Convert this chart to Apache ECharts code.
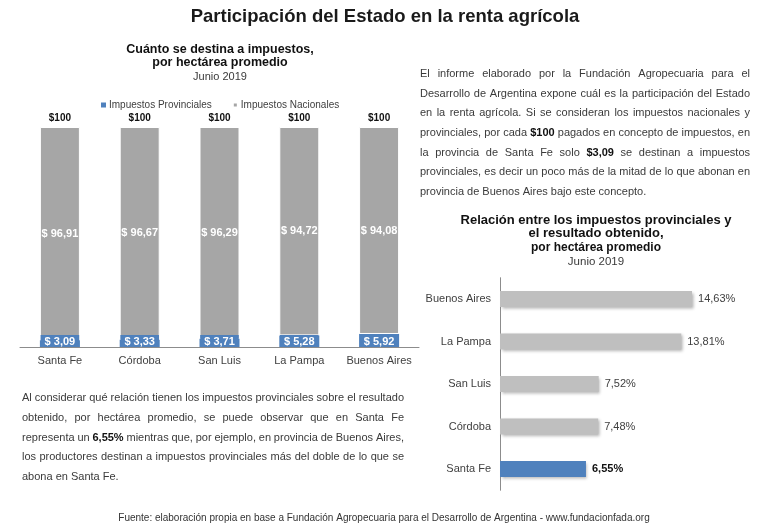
<!DOCTYPE html>
<html><head><meta charset="utf-8">
<script src="https://cdn.jsdelivr.net/npm/echarts@6/dist/echarts.min.js"></script>
<style>html,body{margin:0;padding:0;background:#fff}#c{width:768px;height:528px}</style>
</head><body><div id="c"></div>
<script>
// ---- data ----
const provinces = ['Santa Fe', 'Córdoba', 'San Luis', 'La Pampa', 'Buenos Aires'];
const provinciales = [3.09, 3.33, 3.71, 5.28, 5.92];
const nacionales = [96.91, 96.67, 96.29, 94.72, 94.08];
const totals = [100, 100, 100, 100, 100];
const ratioCats = ['Santa Fe', 'Córdoba', 'San Luis', 'La Pampa', 'Buenos Aires'];
const ratioValues = [6.55, 7.48, 7.52, 13.81, 14.63];
const highlight = 'Santa Fe';

const mainTitle = 'Participación del Estado en la renta agrícola';
const leftTitle = ['Cuánto se destina a impuestos,', 'por hectárea promedio'];
const leftSub = 'Junio 2019';
const rightTitle = ['Relación entre los impuestos provinciales y', 'el resultado obtenido,'];
const rightTitle2 = 'por hectárea promedio';
const rightSub = 'Junio 2019';
const footer = 'Fuente: elaboración propia en base a Fundación Agropecuaria para el Desarrollo de Argentina - www.fundacionfada.org';
const rightPara = [
  'El informe elaborado por la Fundación Agropecuaria para el',
  'Desarrollo de Argentina expone cuál es la participación del Estado',
  'en la renta agrícola. Si se consideran los impuestos nacionales y',
  'provinciales, por cada **$100** pagados en concepto de impuestos, en',
  'la provincia de Santa Fe solo **$3,09** se destinan a impuestos',
  'provinciales, es decir un poco más de la mitad de lo que abonan en',
  'provincia de Buenos Aires bajo este concepto.'
];
const leftPara = [
  'Al considerar qué relación tienen los impuestos provinciales sobre el resultado',
  'obtenido, por hectárea promedio, se puede observar que en Santa Fe',
  'representa un **6,55%** mientras que, por ejemplo, en provincia de Buenos Aires,',
  'los productores destinan a impuestos provinciales más del doble de lo que se',
  'abona en Santa Fe.'
];

// ---- style ----
const FONT = '"Liberation Sans", Arial, sans-serif';
const BLUE = '#4F81BD';
const GRAY_L = '#A6A6A6';
const GRAY_R = '#BFBFBF';
const TXT = '#3a3a3a';

const fmt = v => v.toFixed(2).replace('.', ',');

const ctx = document.createElement('canvas').getContext('2d');
function justify(lines, x0, x1, y0, dy, size) {
  const els = [];
  lines.forEach((line, i) => {
    const words = line.split(' ').map(w => ({ bold: w.startsWith('**'), t: w.replace(/\*\*/g, '') }));
    const widths = words.map(w => { ctx.font = (w.bold ? 'bold ' : '') + size + 'px ' + FONT; return ctx.measureText(w.t).width; });
    ctx.font = size + 'px ' + FONT;
    const sp = ctx.measureText(' ').width;
    const total = widths.reduce((a, b) => a + b, 0);
    const last = i === lines.length - 1;
    const gap = last ? sp : Math.max(sp * 0.6, (x1 - x0 - total) / (words.length - 1));
    let x = x0;
    words.forEach((w, j) => {
      els.push({ type: 'text', x: x, y: y0 + i * dy, silent: true,
        style: { text: w.t, fontSize: size, fontFamily: FONT, fontWeight: w.bold ? 'bold' : 'normal',
          fill: w.bold ? '#111' : TXT, verticalAlign: 'middle', align: 'left' } });
      x += widths[j] + gap;
    });
  });
  return els;
}
function ctext(t, x, y, size, bold, color) {
  return { type: 'text', x: x, y: y, silent: true,
    style: { text: t, fontSize: size, fontFamily: FONT, fontWeight: bold ? 'bold' : 'normal',
      fill: color || TXT, align: 'center', verticalAlign: 'middle' } };
}

const graphics = [
  ctext(mainTitle, 385, 17, 18.5, true, '#1a1a1a'),
  ctext(leftTitle[0], 220, 50, 12.5, true, '#111'),
  ctext(leftTitle[1], 220, 63, 12.5, true, '#111'),
  ctext(leftSub, 220, 77, 11, false, TXT),
  ctext(rightTitle[0], 596, 220, 13, true, '#111'),
  ctext(rightTitle[1], 596, 233, 13, true, '#111'),
  ctext(rightTitle2, 596, 248, 12, true, '#111'),
  ctext(rightSub, 596, 262, 11.5, false, TXT),
  ctext(footer, 384, 518, 10, false, '#333'),
  ...justify(rightPara, 420, 750, 74, 19.67, 11),
  ...justify(leftPara, 22, 404, 398, 19.75, 11)
];

const chart = echarts.init(document.getElementById('c'), null, { renderer: 'canvas' });
chart.setOption({
  backgroundColor: '#fff',
  animation: false,
  textStyle: { fontFamily: FONT },
  legend: {
    data: ['Impuestos Provinciales', 'Impuestos Nacionales'],
    left: 96, top: 95, icon: 'rect', itemWidth: 5, itemHeight: 5, itemGap: 20,
    textStyle: { fontSize: 10, color: '#404040', fontFamily: FONT, padding: [0, 0, 0, -2] }
  },
  grid: [
    { left: 20, top: 127, width: 399, height: 220 },
    { left: 500, top: 277.75, width: 262.5, height: 212.5 }
  ],
  xAxis: [
    { type: 'category', gridIndex: 0, data: provinces,
      axisLine: { lineStyle: { color: '#8c8c8c' } }, axisTick: { show: false },
      axisLabel: { interval: 0, fontSize: 11, color: '#404040', margin: 8, fontFamily: FONT } },
    { type: 'value', gridIndex: 1, min: 0, max: 20, show: false }
  ],
  yAxis: [
    { type: 'value', gridIndex: 0, min: 0, max: 100, show: false },
    { type: 'category', gridIndex: 1, data: ratioCats,
      axisLine: { lineStyle: { color: '#8c8c8c' } }, axisTick: { show: false },
      axisLabel: { interval: 0, fontSize: 11, color: '#404040', margin: 9, fontFamily: FONT } }
  ],
  series: [
    { name: 'Impuestos Provinciales', type: 'bar', stack: 'a', xAxisIndex: 0, yAxisIndex: 0,
      data: provinciales, barWidth: 40, itemStyle: { color: BLUE },
      label: { show: true, position: 'insideBottom', distance: 0, formatter: p => '$ ' + fmt(p.value),
        color: '#fff', fontWeight: 'bold', fontSize: 11, fontFamily: FONT,
        backgroundColor: BLUE, padding: [1, 4, 0, 4], lineHeight: 11 } },
    { name: 'Impuestos Nacionales', type: 'bar', stack: 'a', xAxisIndex: 0, yAxisIndex: 0,
      data: nacionales, barWidth: 40,
      itemStyle: { color: GRAY_L, borderColor: '#fff', borderWidth: 1 },
      label: { show: true, position: 'inside', formatter: p => '$ ' + fmt(p.value),
        color: '#fff', fontWeight: 'bold', fontSize: 11, fontFamily: FONT } },
    { name: 'Total', type: 'line', xAxisIndex: 0, yAxisIndex: 0, data: totals,
      symbol: 'circle', symbolSize: 1, showSymbol: true, itemStyle: { color: 'rgba(0,0,0,0)' },
      lineStyle: { width: 0, color: 'rgba(0,0,0,0)' }, silent: true,
      label: { show: true, position: 'top', distance: 3, formatter: p => '$' + p.value,
        color: '#111', fontWeight: 'bold', fontSize: 10, fontFamily: FONT } },
    { name: 'Relación', type: 'bar', xAxisIndex: 1, yAxisIndex: 1, barWidth: 16,
      data: ratioValues.map((v, i) => ratioCats[i] === highlight
        ? { value: v, itemStyle: { color: BLUE }, label: { fontWeight: 'bold', color: '#111' } }
        : { value: v }),
      itemStyle: { color: GRAY_R, shadowBlur: 3, shadowColor: 'rgba(0,0,0,0.3)', shadowOffsetX: 1.5, shadowOffsetY: 1.5 },
      label: { show: true, position: 'right', distance: 6, formatter: p => fmt(p.value) + '%',
        color: '#404040', fontSize: 11, fontFamily: FONT } }
  ],
  graphic: graphics
});
</script>
</body></html>
